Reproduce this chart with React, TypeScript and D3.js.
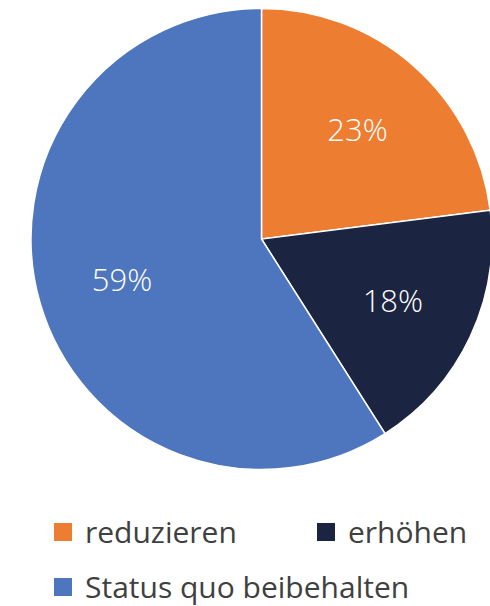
import React from "react";
import * as d3 from "d3";

const categories = ["reduzieren", "erhöhen", "Status quo beibehalten"];
const values = [23, 18, 59];
const colors = ["#ED7D31", "#1B2541", "#4E76BE"];

const W = 490;
const H = 606;
const cx = 261.5;
const cy = 239;
const R = 230.5;

export default function App() {
  const data = categories.map((c, i) => ({ c, v: values[i], color: colors[i] }));
  const pie = d3.pie<any>().sort(null).value((d: any) => d.v);
  const arcs = pie(data);
  const arc = d3.arc<any>().innerRadius(0).outerRadius(R);
  const labelArc = d3.arc<any>().innerRadius(R * 0.63).outerRadius(R * 0.63);
  const font = "'Open Sans', 'Noto Sans', sans-serif";
  const legend = [
    { i: 0, x: 54, y: 543 },
    { i: 1, x: 317, y: 543 },
    { i: 2, x: 54, y: 598 },
  ];
  return (
    <svg
      width={W}
      height={H}
      style={{ position: "absolute", left: 0, top: 0, background: "#fff" }}
    >
      <g transform={`translate(${cx},${cy})`}>
        {arcs.map((a, i) => (
          <path key={i} d={arc(a) as string} fill={a.data.color} stroke="#fff" strokeWidth={1.5} />
        ))}
        {arcs.map((a, i) => {
          const [x, y] = labelArc.centroid(a);
          return (
            <text
              key={"l" + i}
              x={x}
              y={y}
              dy="0.36em"
              textAnchor="middle"
              fill="#fff"
              fontFamily={font}
              fontWeight={300}
              fontSize={31}
            >
              {a.data.v}%
            </text>
          );
        })}
      </g>
      {legend.map((l) => (
        <g key={l.i}>
          <rect x={l.x} y={l.y - 20} width={18} height={18} fill={colors[l.i]} />
          <text x={l.x + 31} y={l.y} fill="#404040" fontFamily={font} fontSize={30}>
            {categories[l.i]}
          </text>
        </g>
      ))}
    </svg>
  );
}
